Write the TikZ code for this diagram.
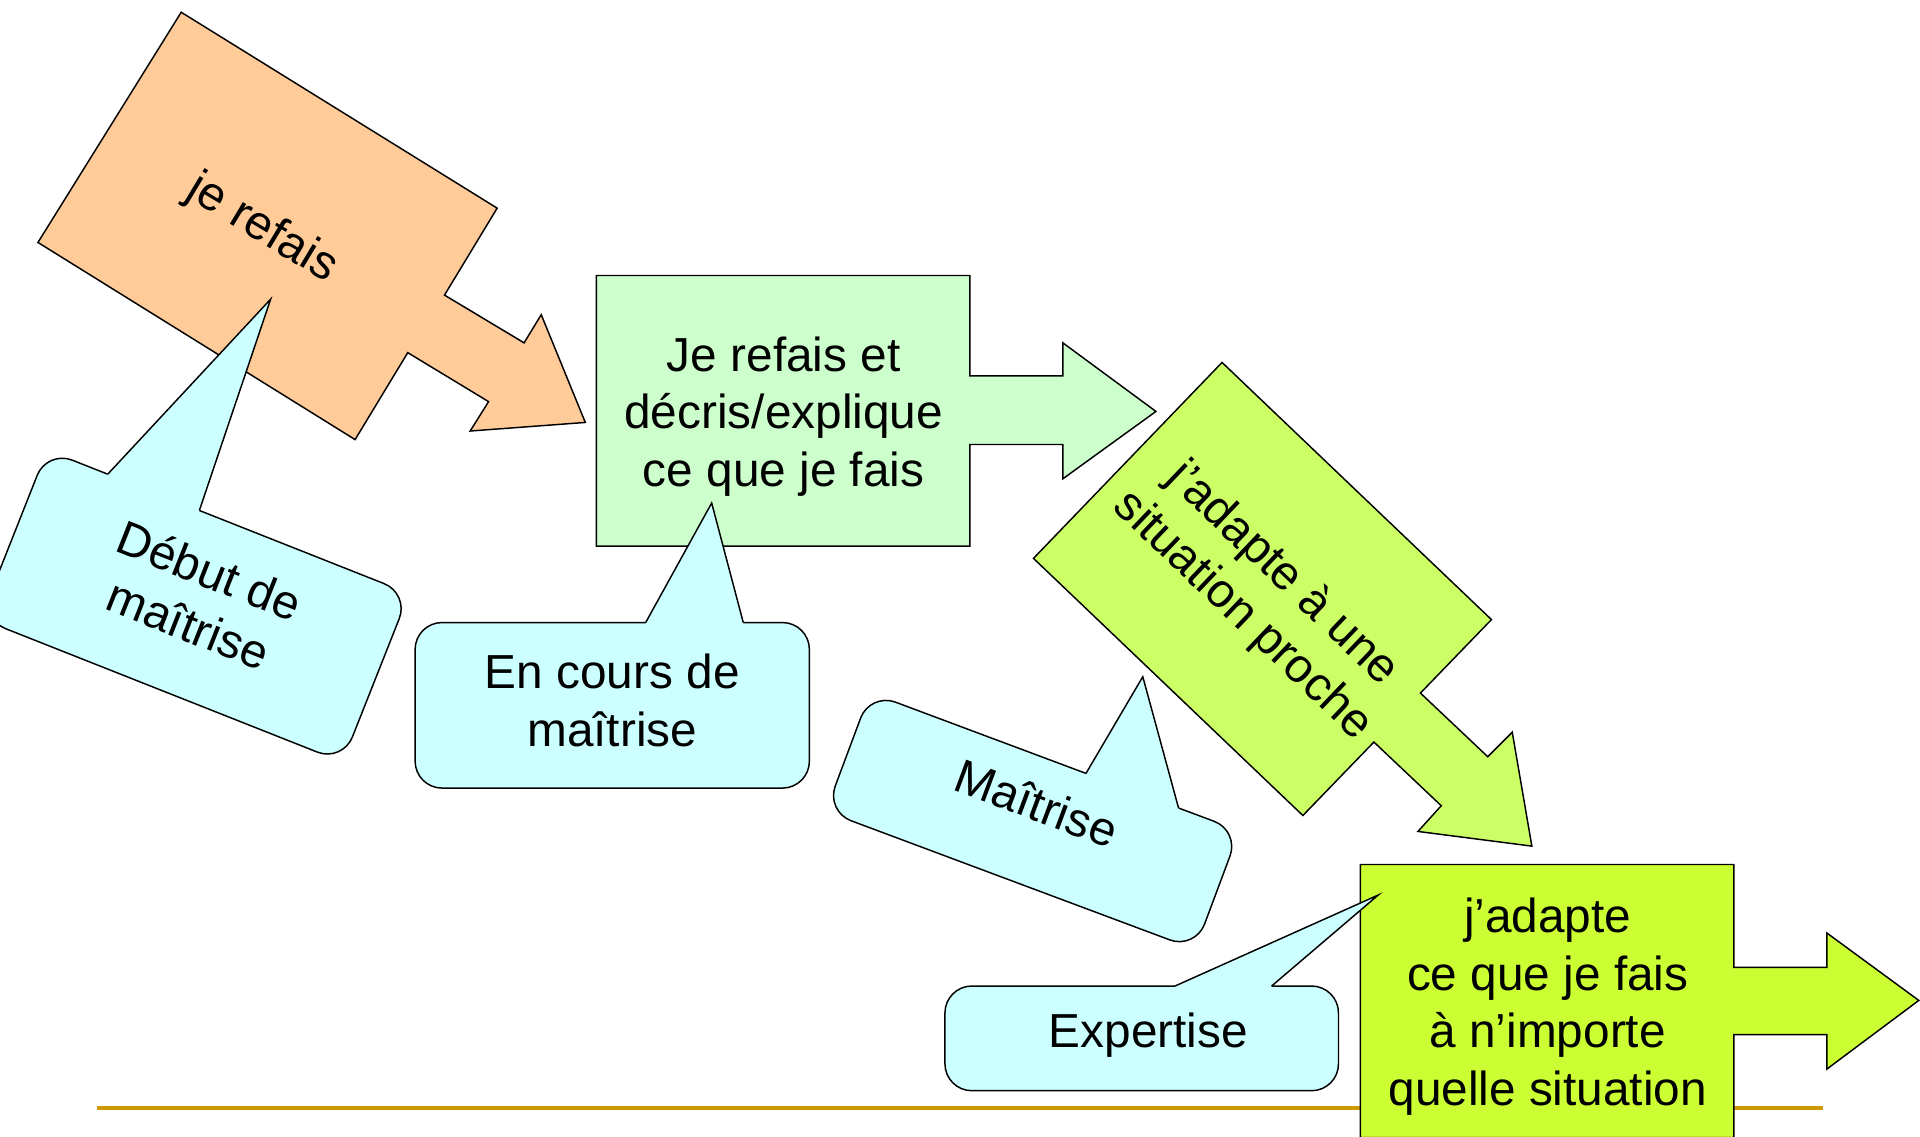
\documentclass[tikz,border=0pt]{standalone}
\usepackage{fontspec}
\setmainfont{Liberation Sans}
\usetikzlibrary{positioning}

\definecolor{peche}{HTML}{FFCC99}
\definecolor{vertpale}{HTML}{CCFFCC}
\definecolor{vertanis}{HTML}{CCFF66}
\definecolor{vertvif}{HTML}{CCFF33}
\definecolor{cyanpale}{HTML}{CCFFFF}
\definecolor{trait}{HTML}{CC9900}

% bulle : demi-largeur, demi-hauteur, base gauche, base droite, pointe x, pointe y
\newcommand{\dessinbulle}[6]{%
  \filldraw[bullebox,rounded corners=22pt] (-#1,-#2) rectangle (#1,#2);
  \fill[cyanpale] (#3,-#2) -- (#5,#6) -- (#4,-#2) -- (#4,-#2+3) -- (#3,-#2+3) -- cycle;
  \draw[line width=1.2pt] (#3,-#2) -- (#5,#6) -- (#4,-#2);
}

\begin{document}
\begin{tikzpicture}[x=1pt,y=-1pt,line join=miter,
    fleche/.style={draw=black,line width=1.2pt},
    bullebox/.style={draw=black,fill=cyanpale,line width=1.2pt},
    txt/.style={font=\fontsize{39}{47}\selectfont,align=center,inner sep=0pt}]
		\useasboundingbox (0,0) rectangle (1568,928);
		\clip (0,0) rectangle (1568,928);

		\draw[trait,line width=3.5pt] (79,905) -- (1489,905);

		% les fleches
		\filldraw[fleche,fill=peche] (148,10) -- (406,170) -- (363,241) -- (428,280) -- (442,257)
		-- (478,345) -- (384,352) -- (399,328) -- (333,288) -- (290,359) -- (31,198) -- cycle;
		\filldraw[fleche,fill=vertpale] (487,225) -- (792,225) -- (792,307) -- (868,307) -- (868,280)
		-- (944,336) -- (868,391) -- (868,363) -- (792,363) -- (792,446) -- (487,446) -- cycle;
		\filldraw[fleche,fill=vertanis] (998,296) -- (1218,506) -- (1160,566) -- (1215,618) -- (1235,598)
		-- (1251,691) -- (1158,679) -- (1177,658) -- (1122,606) -- (1064,666) -- (844,456) -- cycle;
		\filldraw[fleche,fill=vertvif] (1111,706) -- (1416,706) -- (1416,790) -- (1492,790) -- (1492,762)
		-- (1567,817) -- (1492,873) -- (1492,845) -- (1416,845) -- (1416,929) -- (1111,929) -- cycle;

		\node[txt,rotate=-31] (refais) at (214,187) {je refais};
		\node[txt] (decris) at (640,340) {Je refais et\\décris/explique\\ce que je fais};
		\node[txt,rotate=-43.7] (proche) at (1031,486) {j’adapte à une\\situation proche};
		\node[txt] (importe) at (1264,822) {j’adapte\\ce que je fais\\à n’importe\\quelle situation};

		% les bulles
		\begin{scope}[shift={(159.1,495)},rotate=-21.6]
			\dessinbulle{159}{74}{-105.8}{-25.3}{-34.7}{-255.9}
			\node[txt,rotate=-21.6] (debut) at (0.5,-8) {Début de\\maîtrise};
		\end{scope}
		\begin{scope}[shift={(500,576)}]
			\dessinbulle{161}{67.6}{27.3}{107}{81.2}{-165.2}
			\node[txt] (encours) at (0,-4) {En cours de\\maîtrise};
		\end{scope}
		\begin{scope}[shift={(843.3,670.5)},rotate=-20.5]
			\dessinbulle{161}{51.7}{27.2}{107.9}{43}{-141.9}
			\node[txt,rotate=-20.5] (maitrise) at (-2,-14.7) {Maîtrise};
		\end{scope}
		\begin{scope}[shift={(932.4,848)}]
			\dessinbulle{160.7}{42.75}{27.2}{106.1}{193.2}{-117.1}
			\node[txt] (expertise) at (5.4,-3) {Expertise};
		\end{scope}
	\end{tikzpicture}
\end{document}
